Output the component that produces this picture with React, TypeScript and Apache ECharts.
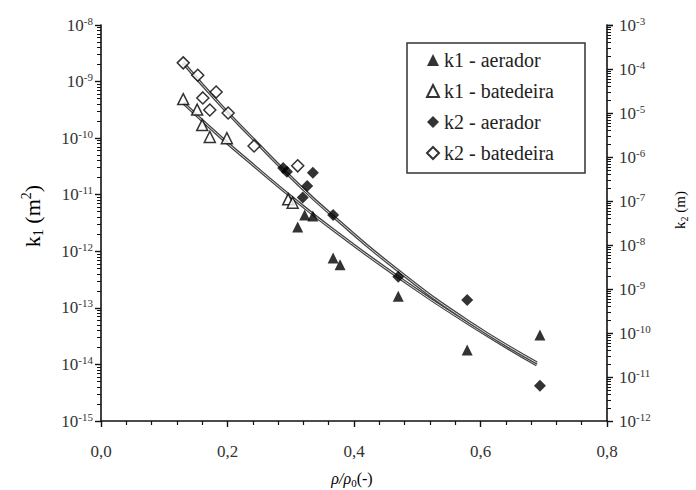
import React, { useEffect, useRef } from "react";
import * as echarts from "echarts";

const FONT = "Liberation Serif";

// x tick labels (0,0 ... 0,8)
const xTicks = [0, 0.2, 0.4, 0.6, 0.8];

// k1 - aerador (filled triangles, left axis, m^2)
const k1AeradorX = [0.311, 0.322, 0.335, 0.367, 0.378, 0.47, 0.579, 0.694];
const k1AeradorY = [2.7e-12, 4.4e-12, 4.2e-12, 7.6e-13, 5.8e-13, 1.6e-13, 1.8e-14, 3.3e-14];

// k1 - batedeira (open triangles, left axis)
const k1BatedeiraX = [0.13, 0.152, 0.16, 0.172, 0.199, 0.296, 0.303];
const k1BatedeiraY = [4.9e-10, 3.2e-10, 1.7e-10, 1.05e-10, 1.0e-10, 8.3e-12, 7.2e-12];

// k2 - aerador (filled diamonds, right axis, m)
const k2AeradorX = [0.288, 0.294, 0.335, 0.326, 0.319, 0.367, 0.47, 0.579, 0.694];
const k2AeradorY = [5.6e-7, 4.6e-7, 4.4e-7, 2.2e-7, 1.2e-7, 4.8e-8, 1.9e-9, 5.6e-10, 6.3e-12];

// k2 - batedeira (open diamonds, right axis)
const k2BatedeiraX = [0.13, 0.153, 0.182, 0.161, 0.172, 0.201, 0.242, 0.311];
const k2BatedeiraY = [1.38e-4, 7.2e-5, 3.0e-5, 2.2e-5, 1.17e-5, 1.0e-5, 1.78e-6, 6.3e-7];

// fitted curve for k1 (left axis)
const fitK1X = [0.13, 0.188, 0.236, 0.311, 0.367, 0.47, 0.579, 0.689];
const fitK1Y = [4.2e-10, 1.07e-10, 3.7e-11, 7.4e-12, 2.4e-12, 3.5e-13, 5.4e-14, 9.8e-15];

// fitted curve for k2 (right axis)
const fitK2X = [0.13, 0.188, 0.236, 0.311, 0.367, 0.47, 0.579, 0.689];
const fitK2Y = [1.38e-4, 1.58e-5, 3.0e-6, 2.45e-7, 4.5e-8, 2.6e-9, 1.9e-10, 2.1e-11];

const zip = (xs: number[], ys: number[]) => xs.map((x, i) => [x, ys[i]]);

const labelRich = {
  b: { fontSize: 17, fontFamily: FONT, color: "#333", lineHeight: 20 },
  s: { fontSize: 11, fontFamily: FONT, color: "#333", lineHeight: 11, verticalAlign: "top" as const },
};

const expLabel = (v: number) => `{b|10}{s|${Math.round(Math.log10(v))}}`;

export default function App() {
  const ref = useRef<HTMLDivElement>(null);
  useEffect(() => {
    const chart = echarts.init(ref.current!, null, { renderer: "svg" });
    const axisLine = { show: true, onZero: false, lineStyle: { color: "#111", width: 1.6 } };
    const option: any = {
      animation: false,
      backgroundColor: "#fff",
      textStyle: { fontFamily: FONT },
      grid: { left: 101, right: 89, top: 25, bottom: 69, containLabel: false },
      xAxis: {
        type: "value",
        min: xTicks[0],
        max: xTicks[xTicks.length - 1],
        interval: 0.2,
        axisLine,
        axisTick: { show: true, length: 6, lineStyle: { color: "#111", width: 1.4 } },
        minorTick: { show: true, splitNumber: 5, length: 4, lineStyle: { color: "#111", width: 1.2 } },
        splitLine: { show: false },
        axisLabel: {
          margin: 22,
          fontSize: 17,
          fontFamily: FONT,
          color: "#333",
          formatter: (v: number) => v.toFixed(1).replace(".", ","),
        },
      },
      yAxis: [
        {
          type: "log",
          logBase: 10,
          min: 1e-15,
          max: 1e-8,
          splitNumber: 7,
          position: "left",
          axisLine,
          axisTick: { show: true, length: 6, lineStyle: { color: "#111", width: 1.4 } },
          minorTick: { show: true, splitNumber: 9, length: 4, lineStyle: { color: "#111", width: 1 } },
          splitLine: { show: false },
          axisLabel: { margin: 8, fontFamily: FONT, formatter: expLabel, rich: labelRich },
        },
        {
          type: "log",
          logBase: 10,
          min: 1e-12,
          max: 1e-3,
          splitNumber: 9,
          position: "right",
          axisLine,
          axisTick: { show: true, length: 6, lineStyle: { color: "#111", width: 1.4 } },
          minorTick: { show: true, splitNumber: 9, length: 4, lineStyle: { color: "#111", width: 1 } },
          splitLine: { show: false },
          axisLabel: { margin: 12, fontFamily: FONT, formatter: expLabel, rich: labelRich },
        },
      ],
      legend: {
        left: 426,
        top: 50,
        orient: "vertical",
        padding: 0,
        itemWidth: 12,
        itemHeight: 12,
        itemGap: 11,
        textStyle: { fontFamily: FONT, fontSize: 20, color: "#222", lineHeight: 20 },
        data: ["k1 - aerador", "k1 - batedeira", "k2 - aerador", "k2 - batedeira"],
      },
      graphic: [
        {
          type: "rect",
          shape: { x: 407, y: 43, width: 178, height: 130 },
          style: { fill: "none", stroke: "#333", lineWidth: 1.5 },
          silent: true,
        },
        {
          type: "text",
          x: 32,
          y: 216,
          rotation: Math.PI / 2,
          style: {
            text: "{a|k}{sub|1}{a| (m}{sup|2}{a|)}",
            fontFamily: FONT,
            align: "center",
            verticalAlign: "middle",
            textAlign: "center",
            textVerticalAlign: "middle",
            rich: {
              a: { fontSize: 22, fontFamily: FONT, color: "#111", lineHeight: 26 },
              sub: { fontSize: 14, fontFamily: FONT, color: "#111", lineHeight: 14, verticalAlign: "bottom" },
              sup: { fontSize: 14, fontFamily: FONT, color: "#111", lineHeight: 14, verticalAlign: "top" },
            },
          },
        },
        {
          type: "text",
          x: 680,
          y: 210,
          rotation: Math.PI / 2,
          style: {
            text: "{a|k}{sub|2}{a| (m)}",
            fontFamily: FONT,
            align: "center",
            verticalAlign: "middle",
            textAlign: "center",
            textVerticalAlign: "middle",
            rich: {
              a: { fontSize: 15, fontFamily: FONT, color: "#333", lineHeight: 18 },
              sub: { fontSize: 10, fontFamily: FONT, color: "#333", lineHeight: 10, verticalAlign: "bottom" },
            },
          },
        },
        {
          type: "text",
          x: 352,
          y: 478,
          style: {
            text: "{i|ρ/ρ}{sub|0}{a|(-)}",
            fontFamily: FONT,
            align: "center",
            verticalAlign: "middle",
            textAlign: "center",
            textVerticalAlign: "middle",
            rich: {
              i: { fontSize: 16, fontFamily: FONT, fontStyle: "italic", color: "#333", lineHeight: 20 },
              a: { fontSize: 16, fontFamily: FONT, color: "#333", lineHeight: 20 },
              sub: { fontSize: 11, fontFamily: FONT, color: "#333", lineHeight: 11, verticalAlign: "bottom" },
            },
          },
        },
      ],
      series: [
        {
          name: "fit k1 outer",
          type: "line",
          yAxisIndex: 0,
          smooth: true,
          symbol: "none",
          silent: true,
          lineStyle: { color: "#444", width: 3.2 },
          data: zip(fitK1X, fitK1Y),
          z: 1,
        },
        {
          name: "fit k1 inner",
          type: "line",
          yAxisIndex: 0,
          smooth: true,
          symbol: "none",
          silent: true,
          lineStyle: { color: "#ddd", width: 1 },
          data: zip(fitK1X, fitK1Y),
          z: 1,
        },
        {
          name: "fit k2 outer",
          type: "line",
          yAxisIndex: 1,
          smooth: true,
          symbol: "none",
          silent: true,
          lineStyle: { color: "#444", width: 3.2 },
          data: zip(fitK2X, fitK2Y),
          z: 1,
        },
        {
          name: "fit k2 inner",
          type: "line",
          yAxisIndex: 1,
          smooth: true,
          symbol: "none",
          silent: true,
          lineStyle: { color: "#ddd", width: 1 },
          data: zip(fitK2X, fitK2Y),
          z: 1,
        },
        {
          name: "k1 - aerador",
          type: "scatter",
          yAxisIndex: 0,
          symbol: "triangle",
          symbolSize: 11,
          itemStyle: { color: "#000" },
          data: zip(k1AeradorX, k1AeradorY),
          z: 3,
        },
        {
          name: "k1 - batedeira",
          type: "scatter",
          yAxisIndex: 0,
          symbol: "triangle",
          symbolSize: 11,
          itemStyle: { color: "#fff", borderColor: "#000", borderWidth: 1.5 },
          data: zip(k1BatedeiraX, k1BatedeiraY),
          z: 3,
        },
        {
          name: "k2 - aerador",
          type: "scatter",
          yAxisIndex: 1,
          symbol: "diamond",
          symbolSize: [12, 12],
          itemStyle: { color: "#000" },
          data: zip(k2AeradorX, k2AeradorY),
          z: 3,
        },
        {
          name: "k2 - batedeira",
          type: "scatter",
          yAxisIndex: 1,
          symbol: "diamond",
          symbolSize: [12, 12],
          itemStyle: { color: "#fff", borderColor: "#000", borderWidth: 1.5 },
          data: zip(k2BatedeiraX, k2BatedeiraY),
          z: 3,
        },
      ],
    };
    chart.setOption(option);
    return () => chart.dispose();
  }, []);
  return (
    <div
      ref={ref}
      style={{ position: "fixed", left: 0, top: 0, width: 696, height: 490, background: "#fff" }}
    />
  );
}
